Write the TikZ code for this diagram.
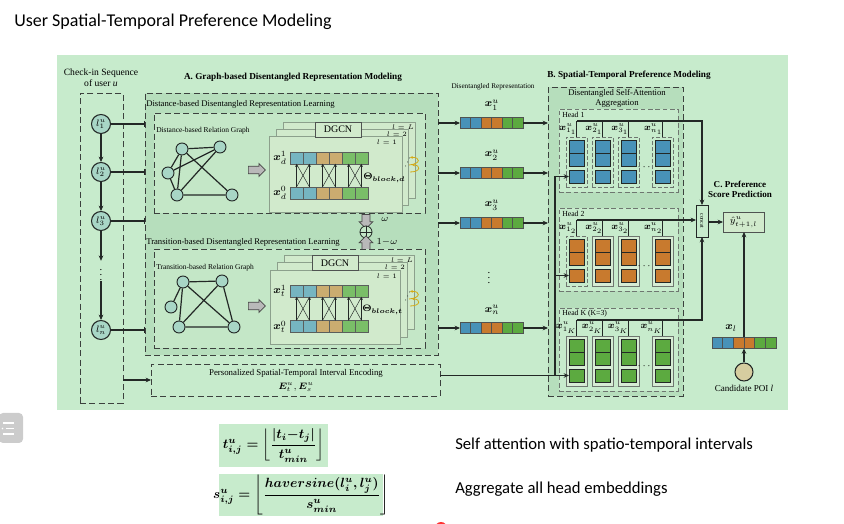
\documentclass[tikz,border=0pt]{standalone}
\usepackage{amsmath}
\usepackage{bm}
\usepackage{fontspec}
\setmainfont{Liberation Serif}
\newfontfamily\calib{Carlito}
\usetikzlibrary{arrows.meta,shapes.arrows,fit,calc}
\newlength\U
\setlength\U{0.75pt}
\definecolor{panel}{RGB}{199,235,204}
\definecolor{boxA}{RGB}{182,222,188}
\definecolor{inner}{RGB}{196,231,199}
\definecolor{layerf}{RGB}{209,234,204}
\definecolor{layerd}{RGB}{140,160,140}
\definecolor{gnode}{RGB}{168,214,198}
\definecolor{fteal}{RGB}{118,181,193}
\definecolor{ftan}{RGB}{203,172,112}
\definecolor{fgreen}{RGB}{122,190,104}
\definecolor{vblue}{RGB}{72,146,184}
\definecolor{vorange}{RGB}{200,122,46}
\definecolor{vgreen}{RGB}{92,170,64}
\definecolor{candc}{RGB}{214,205,160}
\definecolor{yel}{RGB}{212,170,20}
\definecolor{ink}{RGB}{35,40,38}
\definecolor{dashc}{RGB}{60,65,62}
\definecolor{hdash}{RGB}{110,118,112}
\definecolor{colf}{RGB}{214,236,212}
\definecolor{menug}{RGB}{204,204,204}
\tikzset{
  box/.style={inner sep=0pt, outer sep=0pt},
  dbox/.style={box, draw=dashc, line width=0.7pt, dash pattern=on 4.5pt off 2.5pt},
  hbox/.style={box, draw=hdash, line width=0.6pt, dash pattern=on 3.5pt off 2pt, fill=panel},
  conn/.style={draw=ink, line width=0.85pt},
  arr/.style={conn, -{Stealth[length=4pt,width=3.5pt]}},
  barc/.style={conn, -{Bar[width=5pt]}},
  tarr/.style={draw=ink, line width=0.35pt, -{Stealth[length=2.2pt,width=2pt]}},
  tline/.style={draw=ink, line width=0.35pt},
  yarr/.style={draw=yel, line width=0.6pt, -{Stealth[length=2.2pt,width=2pt]}},
  gedge/.style={draw=ink, line width=0.9pt},
  gn/.style={circle, draw=ink, line width=0.7pt, fill=gnode, minimum size=12*\U, inner sep=0pt},
  lnode/.style={circle, draw=ink, line width=0.8pt, fill=gnode, minimum size=19*\U, inner sep=0pt, font=\fontsize{7.5}{8}\selectfont},
  layer/.style={box, draw=layerd, line width=0.6pt, fill=layerf},
  dgcn/.style={box, draw=ink!80, line width=0.6pt, fill=layerf, minimum width=46*\U, minimum height=15*\U, font=\fontsize{7.5}{8}\selectfont},
  garrow/.style={single arrow, draw=gray!55!black, fill=gray!55, line width=0.5pt, minimum height=17*\U, inner sep=2.6pt, single arrow head extend=2pt, outer sep=0pt},
  cell/.style={box, draw=ink!75, line width=0.4pt, minimum width=13*\U, minimum height=12*\U},
  vcell/.style={box, draw=ink!80, line width=0.5pt, minimum width=10.5*\U, minimum height=11*\U},
  hcell/.style={box, draw=ink, line width=0.6pt, minimum width=15*\U, minimum height=13*\U},
  dcol/.style={box, draw=hdash, line width=0.6pt, dash pattern=on 3pt off 1.5pt, minimum width=21*\U, minimum height=50*\U},
  scol/.style={box, draw=hdash, line width=0.7pt, fill=colf, minimum width=21*\U, minimum height=50*\U},
  txt/.style={inner sep=0pt},
  lay/.style={inner sep=0pt, font=\fontsize{5.5}{6}\selectfont},
  mlab/.style={inner sep=0pt, font=\fontsize{8}{9}\selectfont},
}
\begin{document}
\begin{tikzpicture}[x=0.75pt,y=-0.75pt, font=\fontsize{6.5}{7.5}\selectfont]
\useasboundingbox (0,0) rectangle (844,524);
% title
\node[anchor=west, txt, font=\calib\fontsize{13.5}{15}\selectfont] (title) at (14,22) {User Spatial-Temporal Preference Modeling};
% panel
\node[box, fill=panel, fit={(57,55)(788,410)}] (panel) {};
% check-in sequence
\node[txt, align=center, font=\fontsize{7.2}{8.4}\selectfont] (chk) at (101,78) {Check-in Sequence\\of user \textit{u}};
\node[dbox, fit={(80,93)(123,403)}] (seq) {};
\node[lnode] (l1) at (101,124) {$l^u_1$};
\node[lnode] (l2) at (101,172) {$l^u_2$};
\node[lnode] (l3) at (101,221) {$l^u_3$};
\node[txt, font=\fontsize{8}{9}\selectfont] (ldots) at (101,271) {$\vdots$};
\node[lnode] (ln) at (101,330) {$l^u_n$};
\draw[arr] (l1) -- (l2);
\draw[arr] (l2) -- (l3);
\draw[arr] (l3) -- (ldots.north);
\draw[arr] (ldots.south) -- (ln);
% A
\node[txt, font=\bfseries\fontsize{6.9}{8}\selectfont] (Atitle) at (293,77) {A. Graph-based Disentangled Representation Modeling};
\node[dbox, fill=boxA, fit={(145,93)(438,355)}] (A) {};
\foreach \n in {l1,l2,l3,ln}{ \draw[barc] (\n.east) -- (\n.east -| A.west); }
% distance-based
\node[anchor=west, txt, font=\fontsize{6.5}{7.5}\selectfont] (Dlab) at (146,104) {Distance-based Disentangled Representation Learning};
\node[dbox, fill=inner, fit={(154,113)(425,213)}] (D) {};
\node[anchor=west, txt, font=\fontsize{5.6}{6.5}\selectfont] (Dglab) at (156,131) {Distance-based Relation Graph};
\node[gn] (da) at (182,149) {};
\node[gn] (db) at (220,147) {};
\node[gn] (dc) at (168,173) {};
\node[gn] (dd) at (177,195) {};
\node[gn] (de) at (232,195) {};
\draw[gedge] (da)--(db) (da)--(dc) (da)--(dd) (da)--(de) (db)--(dc) (db)--(dd) (dc)--(dd) (dd)--(de);
\node[garrow] (dga) at (255,170) {};
\node[layer, fit={(283,122)(415,198)}] (dL3) {};
\node[layer, fit={(276,129)(408,205)}] (dL2) {};
\node[layer, fit={(269,136)(402,212)}] (dL1) {};
\node[dgcn] (dgcn1) at (338,129.5) {DGCN};
\node[lay] (dlL) at (403,127) {$l=L$};
\node[lay] (dl2) at (397,134) {$l=2$};
\node[lay] (dl1) at (387,142) {$l=1$};
\foreach \i/\c in {0/fteal,1/fteal,2/ftan,3/ftan,4/fgreen,5/fgreen}{
  \node[cell, fill=\c] (dt\i) at ({296.5+13*\i},158) {};
  \node[cell, fill=\c] (db\i) at ({296.5+13*\i},193) {};
}
\foreach \a/\b in {0/1,2/3,4/5}{
  \draw[tarr] (db\a.north) -- (dt\a.south);
  \draw[tarr] (db\b.north) -- (dt\b.south);
  \draw[tline] (db\a.north) -- (dt\b.south);
  \draw[tline] (db\b.north) -- (dt\a.south);
}
\node[mlab] (xd1) at (280,158) {$\bm{x}^1_d$};
\node[mlab] (xd0) at (280,193) {$\bm{x}^0_d$};
\node[anchor=west, txt, font=\fontsize{6.8}{7.5}\selectfont] (thd) at (363,178) {$\bm{\Theta}_{\bm{block,d}}$};
\fill[ink] (405.5,166) circle (0.5) (407.5,162) circle (0.5) (409.5,158) circle (0.5);
\draw[yarr] (409,165) .. controls (421,164) and (421,157) .. (410,157.5);
\draw[yarr] (410,172) .. controls (421,172) and (421,165) .. (412,165);
% merge
\node[garrow, shape border rotate=270, minimum height=14*\U, inner sep=2.8pt] (gdown) at (366,219.5) {};
\node[circle, draw=ink, line width=0.6pt, fill=inner, minimum size=12*\U, inner sep=0pt] (plus) at (366,232) {};
\draw[draw=ink, line width=0.6pt] (plus.north)--(plus.south) (plus.west)--(plus.east);
\node[garrow, shape border rotate=90, minimum height=14*\U, inner sep=2.8pt] (gup) at (366,245) {};
\node[txt, font=\fontsize{7}{8}\selectfont] (om) at (385,219) {$\omega$};
\node[txt, font=\fontsize{7}{8}\selectfont] (om2) at (387,242) {$1{-}\omega$};
% transition-based
\node[anchor=west, txt, font=\fontsize{6.5}{7.5}\selectfont] (Tlab) at (146,242) {Transition-based Disentangled Representation Learning};
\node[dbox, fill=inner, fit={(154,249)(425,348)}] (T) {};
\node[anchor=west, txt, font=\fontsize{5.6}{6.5}\selectfont] (Tglab) at (156,268) {Transition-based Relation Graph};
\node[gn] (ta) at (183,282) {};
\node[gn] (tb) at (222,281) {};
\node[gn] (tc) at (171,307) {};
\node[gn] (td) at (179,327) {};
\node[gn] (te) at (234,327) {};
\draw[gedge] (ta)--(tb) (ta)--(tc) (ta)--(td) (ta)--(te) (tb)--(td) (tb)--(te) (td)--(te);
\node[garrow] (tga) at (255,306) {};
\node[layer, fit={(284,255)(414,329)}] (tL3) {};
\node[layer, fit={(277,262)(407,337)}] (tL2) {};
\node[layer, fit={(270,270)(400,344)}] (tL1) {};
\node[dgcn] (dgcn2) at (335,263) {DGCN};
\node[lay] (tlL) at (402,260) {$l=L$};
\node[lay] (tl2) at (395,267) {$l=2$};
\node[lay] (tl1) at (387,276) {$l=1$};
\foreach \i/\c in {0/fteal,1/fteal,2/ftan,3/ftan,4/fgreen,5/fgreen}{
  \node[cell, fill=\c] (tt\i) at ({296.5+13*\i},291) {};
  \node[cell, fill=\c] (tb\i) at ({296.5+13*\i},326.5) {};
}
\foreach \a/\b in {0/1,2/3,4/5}{
  \draw[tarr] (tb\a.north) -- (tt\a.south);
  \draw[tarr] (tb\b.north) -- (tt\b.south);
  \draw[tline] (tb\a.north) -- (tt\b.south);
  \draw[tline] (tb\b.north) -- (tt\a.south);
}
\node[mlab] (xt1) at (280,291) {$\bm{x}^1_t$};
\node[mlab] (xt0) at (280,327) {$\bm{x}^0_t$};
\node[anchor=west, txt, font=\fontsize{6.8}{7.5}\selectfont] (tht) at (362,310) {$\bm{\Theta}_{\bm{block,t}}$};
\fill[ink] (405.5,300) circle (0.5) (407.5,296) circle (0.5) (409.5,292) circle (0.5);
\draw[yarr] (409,299) .. controls (421,298) and (421,291) .. (410,291.5);
\draw[yarr] (410,306) .. controls (421,306) and (421,299) .. (412,299);
% personalized
\node[dbox, fit={(151,364)(440,396)}] (P) {};
\node[txt, font=\fontsize{6.6}{7.5}\selectfont] (Ptxt) at (296,373) {Personalized Spatial-Temporal Interval Encoding};
\node[txt, font=\fontsize{7.5}{8.5}\selectfont] (Pmath) at (296,387) {$\bm{E}^u_t,\bm{E}^u_s$};
\draw[arr] (seq.east |- P.west) -- (P.west);
% B
\node[txt, font=\bfseries\fontsize{6.9}{8}\selectfont] (Btitle) at (629,75) {B. Spatial-Temporal Preference Modeling};
\node[dbox, fill=boxA, fit={(548,87)(683,396)}] (B) {};
\node[txt, align=center, font=\fontsize{6.5}{7.6}\selectfont] (Blab) at (617,98.5) {Disentangled Self-Attention\\Aggregation};
% representations
\node[txt, font=\fontsize{5.4}{6}\selectfont] (replab) at (493,87) {Disentangled Representation};
\foreach \r/\yy/\lab in {1/123/1, 2/173/2, 3/223/3, n/328/n}{
  \foreach \i/\c in {0/vblue,1/vblue,2/vorange,3/vorange,4/vgreen,5/vgreen}{
    \node[vcell, fill=\c] (r\r-\i) at ({465.25+10.5*\i},\yy) {};
  }
  \node[mlab] (rl\r) at (492,\yy-18) {$\bm{x}^u_{\lab}$};
  \draw[arr] (A.east |- r\r-0.west) -- (r\r-0.west);
  \draw[arr] (r\r-5.east) -- (r\r-5.east -| B.west);
}
\node[txt, font=\fontsize{8}{9}\selectfont] (rdots) at (489,274) {$\vdots$};
% heads
\foreach \h/\T/\c/\sa/\sb/\hn in {1/109/vblue/dcol/dcol/{Head 1}, 2/208/vorange/dcol/scol/{Head 2}, K/308/vgreen/scol/scol/{Head K (K=3)}}{
  \node[hbox, fit={(559,\T)(678,\T+83)}] (H\h) {};
  \node[anchor=west, txt, font=\fontsize{5.8}{6.5}\selectfont] (H\h-name) at (562,\T+6) {\hn};
  \coordinate (H\h-start) at (577,\T+12);
  \foreach \k/\cx/\st in {1/576.5/\sa, 2/602.5/\sb, 3/628.5/\sb, n/662.5/\sb}{
    \node[\st] (H\h-col\k) at (\cx,\T+53) {};
    \node[hcell, fill=\c] (H\h-\k-a) at (\cx,\T+37.5) {};
    \node[hcell, fill=\c] (H\h-\k-b) at (\cx,\T+50.5) {};
    \node[hcell, fill=\c] (H\h-\k-c) at (\cx,\T+67.5) {};
    \node[anchor=east, txt, font=\fontsize{7}{8}\selectfont] (H\h-lab\k) at (\cx+0.5,\T+20) {$\bm{x}^u_{\k_{\h}}$};
    \draw[conn] (H\h-col\k.north) -- (H\h-col\k.north |- H\h-start);
  }
  \node[txt, font=\fontsize{7}{8}\selectfont] (H\h-dots) at (645,\T+58) {$\cdots$};
}
% concat and prediction
\node[box, draw=ink, line width=0.6pt, fill=panel, minimum width=12*\U, minimum height=32*\U] (concat) at (702,221) {};
\node[txt, rotate=-90, font=\fontsize{4.3}{5}\selectfont] (concattxt) at (concat) {concat};
\draw[arr] (H1-start) -| (concat.north);
\draw[arr] (H2-start) -- (H2-start -| concat.west);
\draw[arr] (HK-start) -| (concat.south);
\node[txt, align=center, font=\bfseries\fontsize{6.8}{8}\selectfont] (Clab) at (740,189.5) {C. Preference\\Score Prediction};
\node[box, draw=ink!80, line width=0.6pt, fill=layerf, minimum width=41*\U, minimum height=20*\U, font=\fontsize{7.5}{8}\selectfont] (yhat) at (743.5,222) {$\hat{y}^u_{t+1,l}$};
\draw[arr] (concat.east |- yhat.west) -- (yhat.west);
% bus from personalized encoding
\coordinate (bus) at (555,300);
\draw[arr] (P.east |- HK-1-c.west) -- (HK-1-c.west);
\draw[conn] (HK-1-c.west -| bus) -- (H1-1-c.west -| bus);
\draw[arr] (H1-1-c.west -| bus) -- (H1-1-c.west);
\draw[arr] (H2-1-c.west -| bus) -- (H2-1-c.west);
% candidate
\foreach \i/\c in {0/vblue,1/vblue,2/vorange,3/vorange,4/vgreen,5/vgreen}{
  \node[vcell, fill=\c, minimum width=10.67*\U] (xl-\i) at ({717.33+10.67*\i},343) {};
}
\node[mlab] (xllab) at (731,328) {$\bm{x}_l$};
\draw[arr] (xl-2.north east) -- (xl-2.north east |- yhat.south);
\node[circle, draw=ink, line width=0.8pt, fill=candc, minimum size=18*\U, inner sep=0pt] (cand) at (744,372) {};
\draw[arr] (cand.north) -- (cand.north |- xl-2.south);
\node[txt, font=\fontsize{6.8}{7.5}\selectfont] (candlab) at (744,388) {Candidate POI \textit{l}};
% formulas
\node[box, fill=panel, fit={(219,424)(328,467)}] (f1) {};
\node[txt, font=\fontsize{9.8}{12}\selectfont\boldmath] (f1t) at (f1) {$t^u_{i,j} = \left\lfloor \dfrac{|t_i{-}t_j|}{t^u_{min}} \right\rfloor$};
\node[box, fill=panel, fit={(219,474)(383,516)}] (f2) {};
\node[txt, font=\fontsize{9.8}{12}\selectfont\boldmath] (f2t) at (f2) {$s^u_{i,j} = \left\lfloor \dfrac{haversine(l^u_i,l^u_j)}{s^u_{min}} \right\rfloor$};
\node[anchor=west, txt, font=\calib\fontsize{12.5}{14}\selectfont] (n1) at (455,445) {Self attention with spatio-temporal intervals};
\node[anchor=west, txt, font=\calib\fontsize{12.5}{14}\selectfont] (n2) at (455,489) {Aggregate all head embeddings};
% side icon
\node[box, fill=menug, rounded corners=3pt, minimum width=24*\U, minimum height=30*\U] (menu) at (11,428) {};
\draw[white, line width=1.1pt] (3,423) -- (14,423) (6,428.5) -- (14,428.5) (3,434) -- (14,434);
\fill[white] (2.5,428.5) circle (0.8);
\fill[red!80] (441,528) circle (6);
\end{tikzpicture}
\end{document}
